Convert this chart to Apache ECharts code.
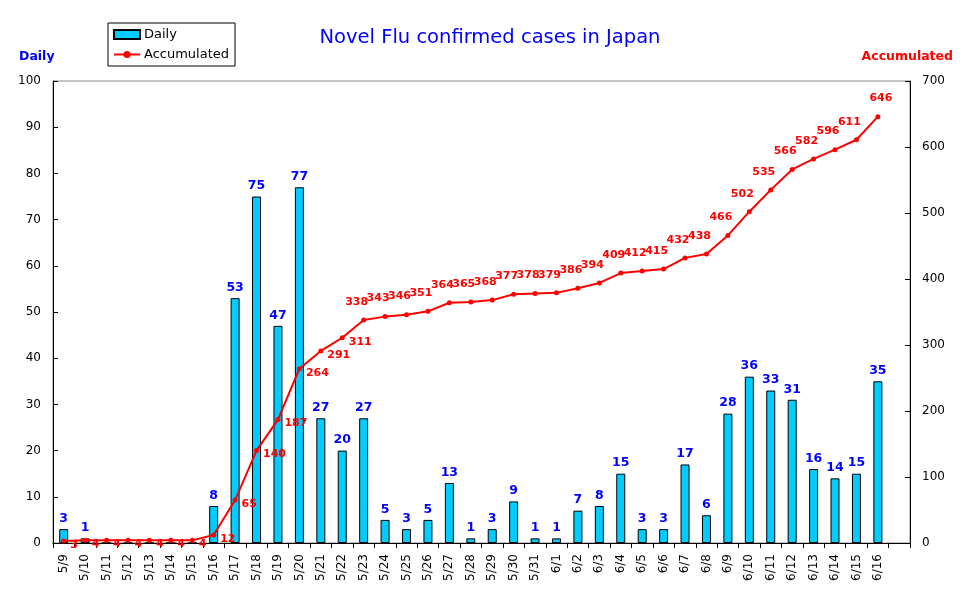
<!DOCTYPE html>
<html>
<head>
<meta charset="utf-8">
<title>Novel Flu confirmed cases in Japan</title>
<script src="https://cdn.jsdelivr.net/npm/echarts@6/dist/echarts.min.js"></script>
<style>
  html, body { margin: 0; padding: 0; background: #fff; }
  #main { width: 970px; height: 604px; }
</style>
</head>
<body>
<div id="main"></div>
<script>
// 日付
var dates = ['5/9', '5/10', '5/11', '5/12', '5/13', '5/14', '5/15', '5/16', '5/17', '5/18',
  '5/19', '5/20', '5/21', '5/22', '5/23', '5/24', '5/25', '5/26', '5/27', '5/28',
  '5/29', '5/30', '5/31', '6/1', '6/2', '6/3', '6/4', '6/5', '6/6', '6/7',
  '6/8', '6/9', '6/10', '6/11', '6/12', '6/13', '6/14', '6/15', '6/16'];
// 日別の確認数
var daily = [3, 1, 0, 0, 0, 0, 0, 8, 53, 75,
  47, 77, 27, 20, 27, 5, 3, 5, 13, 1,
  3, 9, 1, 1, 7, 8, 15, 3, 3, 17,
  6, 28, 36, 33, 31, 16, 14, 15, 35];
// 累計
var accumulated = [3, 4, 4, 4, 4, 4, 4, 12, 65, 140,
  187, 264, 291, 311, 338, 343, 346, 351, 364, 365,
  368, 377, 378, 379, 386, 394, 409, 412, 415, 432,
  438, 466, 502, 535, 566, 582, 596, 611, 646];
var leftTicks = [0, 100, 10];
var rightTicks = [0, 700, 100];

var font = 'DejaVu Sans';
var myChart = echarts.init(document.getElementById('main'));

// 末尾に空の区切りを一つ
var cats = dates.concat(['']);

var accData = accumulated.map(function (v, i) {
  var early = i < 14;
  return {
    value: v,
    label: early
      ? { position: 'right', distance: 4, offset: [0, 4] }
      : { position: 'top', distance: 10, offset: [i === accumulated.length - 1 ? 3 : -7, 0] }
  };
});

var option = {
  animation: false,
  backgroundColor: '#fff',
  textStyle: { fontFamily: font },
  title: [{
    text: 'Novel Flu confirmed cases in Japan',
    left: 485, top: 23, textAlign: 'center',
    textStyle: { color: '#0000FF', fontSize: 19.5, fontWeight: 'normal', fontFamily: font }
  }, {
    text: 'Daily',
    left: 14, top: 45,
    textStyle: { color: '#0000FF', fontSize: 12.5, fontWeight: 'bold', fontFamily: font }
  }, {
    text: 'Accumulated',
    right: 12, top: 45,
    textStyle: { color: '#FF0000', fontSize: 12.5, fontWeight: 'bold', fontFamily: font }
  }],
  legend: {
    orient: 'vertical',
    left: 108, top: 23,
    padding: [5, 6, 5, 5],
    itemGap: 7,
    itemWidth: 26,
    itemHeight: 9,
    borderColor: '#000',
    borderWidth: 1,
    borderRadius: 0,
    textStyle: { color: '#000', fontSize: 13, fontFamily: font, padding: [0, 0, 0, -1] },
    data: [{ name: 'Daily', icon: 'rect' }, { name: 'Accumulated' }]
  },
  grid: {
    left: 53, right: 60, top: 81, bottom: 61,
    show: true, borderColor: '#888', borderWidth: 1
  },
  xAxis: {
    type: 'category',
    data: cats,
    boundaryGap: true,
    axisLine: { lineStyle: { color: '#000', width: 1 } },
    axisTick: { show: true, inside: false, length: 5, interval: 0, lineStyle: { color: '#000' } },
    axisLabel: { rotate: 90, interval: 0, color: '#000', fontSize: 12, fontFamily: font, margin: 11 },
    splitLine: { show: false }
  },
  yAxis: [{
    type: 'value',
    min: leftTicks[0], max: leftTicks[1], interval: leftTicks[2],
    axisLine: { show: true, lineStyle: { color: '#000', width: 1 } },
    axisTick: { show: true, inside: true, length: 5, lineStyle: { color: '#000' } },
    axisLabel: { color: '#000', fontSize: 12, fontFamily: font, margin: 12 },
    splitLine: { show: false }
  }, {
    type: 'value',
    min: rightTicks[0], max: rightTicks[1], interval: rightTicks[2],
    position: 'right',
    axisLine: { show: true, lineStyle: { color: '#000', width: 1 } },
    axisTick: { show: true, inside: true, length: 5, lineStyle: { color: '#000' } },
    axisLabel: { color: '#000', fontSize: 12, fontFamily: font, margin: 12 },
    splitLine: { show: false }
  }],
  series: [{
    name: 'Daily',
    type: 'bar',
    yAxisIndex: 0,
    data: daily,
    barWidth: 9,
    itemStyle: { color: '#00CCFF', borderColor: '#000', borderWidth: 1 },
    label: {
      show: true, position: 'top', distance: 4,
      color: '#0000FF', fontSize: 12.5, fontWeight: 'bold', fontFamily: font,
      formatter: function (p) { return p.value ? p.value : ''; }
    }
  }, {
    name: 'Accumulated',
    type: 'line',
    yAxisIndex: 1,
    data: accData,
    symbol: 'circle',
    symbolSize: 5,
    lineStyle: { color: '#FF0000', width: 2 },
    itemStyle: { color: '#FF0000' },
    label: {
      show: true,
      color: '#FF0000', fontSize: 11, fontWeight: 'bold', fontFamily: font
    },
    z: 3
  }]
};

myChart.setOption(option);
window.addEventListener('resize', function () {
  myChart.resize();
});
</script>
</body>
</html>
